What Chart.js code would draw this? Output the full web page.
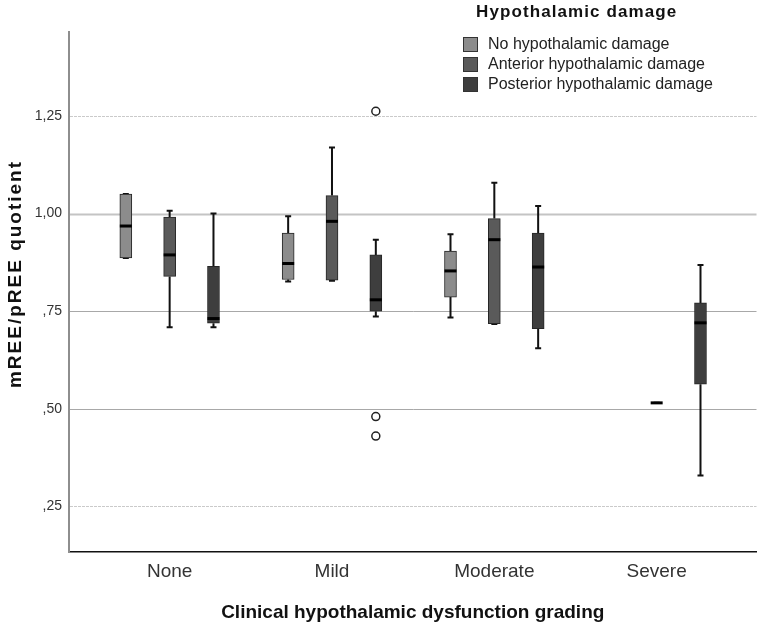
<!DOCTYPE html>
<html><head><meta charset="utf-8">
<script src="https://cdn.jsdelivr.net/npm/chart.js@4.4.0/dist/chart.umd.min.js"></script>
<style>
html,body{margin:0;padding:0;background:#fff;}
#wrap{position:relative;width:762px;height:624px;}
#legend{position:absolute;left:0;top:0;width:762px;height:100px;font-family:"Liberation Sans",Arial,sans-serif;color:#222;pointer-events:none;}
#legend .title{position:absolute;left:476px;top:1px;font-weight:bold;font-size:17px;letter-spacing:1.1px;line-height:22px;color:#111;}
#legend .item{position:absolute;left:463px;height:20px;font-size:16px;line-height:20px;white-space:nowrap;}
#legend .sw{position:absolute;left:0;top:2px;width:13px;height:13px;border:1px solid #333;}
#legend .lbl{position:absolute;left:25px;top:-1px;}
</style></head><body>
<div id="wrap"><canvas id="c" width="762" height="624"></canvas><div id="legend"></div></div>
<script>
// ---- data ----
const categories = ['None', 'Mild', 'Moderate', 'Severe'];
const seriesNames = ['No hypothalamic damage', 'Anterior hypothalamic damage', 'Posterior hypothalamic damage'];
// five-number summaries [min, q1, median, q3, max] per category (null = no cases)
const noDamage  = [[0.886, 0.886, 0.968, 1.050, 1.050], [0.826, 0.831, 0.872, 0.950, 0.993], [0.734, 0.786, 0.853, 0.904, 0.947], null];
const anterior  = [[0.709, 0.839, 0.894, 0.991, 1.007], [0.828, 0.829, 0.980, 1.046, 1.169], [0.717, 0.718, 0.933, 0.987, 1.079], [0.515, 0.515, 0.515, 0.515, 0.515]];
const posterior = [[0.709, 0.719, 0.731, 0.865, 1.000], [0.736, 0.750, 0.779, 0.894, 0.933], [0.655, 0.705, 0.863, 0.950, 1.019], [0.329, 0.563, 0.720, 0.771, 0.868]];
const posteriorOutliers = [[], [1.262, 0.480, 0.430], [], []];
const yTickValues = [0.25, 0.50, 0.75, 1.00, 1.25];
const yTickLabels = [',25', ',50', ',75', '1,00', '1,25'];
const xTitle = 'Clinical hypothalamic dysfunction grading';
const yTitle = 'mREE/pREE quotient';
const legendTitle = 'Hypothalamic damage';

// ---- styling ----
const seriesData = [noDamage, anterior, posterior];
const seriesOutliers = [[[], [], [], []], [[], [], [], []], posteriorOutliers];
const seriesColors = ['#8c8c8c', '#5a5a5a', '#3e3e3e'];
const groupOffsets = [-0.27, 0, 0.27];
const BOX_W = 12, CAP_W = 6;
const FONT = '"Liberation Sans", Arial, sans-serif';

// legend (HTML)
const lg = document.getElementById('legend');
lg.innerHTML = '<div class="title">' + legendTitle + '</div>' + seriesNames.map((n, i) =>
  `<div class="item" style="top:${35 + i * 20}px"><span class="sw" style="background:${seriesColors[i]}"></span><span class="lbl">${n}</span></div>`).join('');

const datasets = [];
seriesData.forEach((arr, s) => {
  datasets.push({
    type: 'bar',
    label: seriesNames[s],
    data: arr.map((b, i) => b ? { x: i + groupOffsets[s], y: [b[1], b[3]] } : null).filter(Boolean),
    backgroundColor: seriesColors[s],
    borderColor: '#262626',
    borderWidth: 1,
    borderSkipped: false,
    barThickness: BOX_W,
    grouped: false,
    order: 2
  });
});
seriesOutliers.forEach((arr, s) => {
  const pts = [];
  arr.forEach((vals, i) => vals.forEach(v => pts.push({ x: i + groupOffsets[s], y: v })));
  if (pts.length) datasets.push({
    type: 'scatter', label: seriesNames[s] + ' outliers', data: pts,
    pointStyle: 'circle', pointRadius: 4, pointBorderWidth: 1.5,
    pointBorderColor: '#222', pointBackgroundColor: '#fff', order: 1
  });
});

function gridStyle(v) {
  if (Math.abs(v - 1) < 1e-6) return { c: '#c4c4c4', w: 2, d: [] };
  if (Math.abs(v - 0.25) < 1e-6 || Math.abs(v - 1.25) < 1e-6) return { c: '#cacaca', w: 1.2, d: [3, 1] };
  return { c: '#a8a8a8', w: 1, d: [] };
}

const boxPlugin = {
  id: 'boxParts',
  beforeDatasetsDraw(chart) {
    const { ctx, chartArea: a, scales: { x, y } } = chart;
    ctx.save();
    // horizontal grid / reference lines
    yTickValues.forEach(v => {
      const st = gridStyle(v);
      const py = Math.round(y.getPixelForValue(v)) + 0.5;
      ctx.strokeStyle = st.c; ctx.lineWidth = st.w; ctx.setLineDash(st.d);
      ctx.beginPath(); ctx.moveTo(a.left + 1, py); ctx.lineTo(a.right, py); ctx.stroke();
    });
    ctx.setLineDash([]);
    // whiskers + caps
    ctx.strokeStyle = '#111'; ctx.lineWidth = 2;
    seriesData.forEach((arr, s) => arr.forEach((b, i) => {
      if (!b) return;
      const px = x.getPixelForValue(i + groupOffsets[s]);
      const pMin = y.getPixelForValue(b[0]), pQ1 = y.getPixelForValue(b[1]);
      const pQ3 = y.getPixelForValue(b[3]), pMax = y.getPixelForValue(b[4]);
      ctx.beginPath();
      ctx.moveTo(px, pQ1); ctx.lineTo(px, pMin);
      ctx.moveTo(px, pQ3); ctx.lineTo(px, pMax);
      ctx.stroke();
      ctx.beginPath();
      ctx.moveTo(px - CAP_W / 2, pMin); ctx.lineTo(px + CAP_W / 2, pMin);
      ctx.moveTo(px - CAP_W / 2, pMax); ctx.lineTo(px + CAP_W / 2, pMax);
      ctx.stroke();
    }));
    ctx.restore();
  },
  afterDatasetsDraw(chart) {
    const { ctx, chartArea: a, scales: { x, y } } = chart;
    ctx.save();
    ctx.strokeStyle = '#000'; ctx.lineWidth = 3;
    seriesData.forEach((arr, s) => arr.forEach((b, i) => {
      if (!b) return;
      const px = x.getPixelForValue(i + groupOffsets[s]);
      const pm = y.getPixelForValue(b[2]);
      ctx.beginPath(); ctx.moveTo(px - BOX_W / 2, pm); ctx.lineTo(px + BOX_W / 2, pm); ctx.stroke();
    }));
    // y axis title (letter-spaced, as in the reference)
    ctx.translate(16, (a.top + a.bottom) / 2 - 18);
    ctx.rotate(-Math.PI / 2);
    ctx.font = 'bold 19px ' + FONT;
    ctx.fillStyle = '#111';
    ctx.textAlign = 'center';
    ctx.textBaseline = 'middle';
    if ('letterSpacing' in ctx) ctx.letterSpacing = '2px';
    ctx.fillText(yTitle, 0, 0);
    ctx.restore();
  }
};

new Chart(document.getElementById('c'), {
  type: 'bar',
  data: { datasets },
  options: {
    responsive: false,
    animation: false,
    layout: { padding: { top: 32, right: 3, left: 0, bottom: 0 } },
    plugins: { legend: { display: false }, tooltip: { enabled: false } },
    scales: {
      x: {
        type: 'linear', min: -0.62, max: 3.615, offset: false,
        afterBuildTicks: sc => { sc.ticks = categories.map((c, i) => ({ value: i })); },
        afterFit: sc => { sc.height = 72; },
        ticks: { callback: v => categories[v], font: { family: FONT, size: 19 }, color: '#333', padding: 8, autoSkip: false, maxRotation: 0 },
        grid: { display: false, drawTicks: false },
        border: { display: true, color: '#111', width: 1.5 },
        title: { display: true, text: xTitle, font: { family: FONT, size: 19, weight: 'bold' }, color: '#111', padding: { top: 8, bottom: 0 } }
      },
      y: {
        type: 'linear', min: 0.133, max: 1.465,
        afterBuildTicks: sc => { sc.ticks = yTickValues.map(v => ({ value: v })); },
        afterFit: sc => { sc.width = 69; },
        ticks: { callback: v => yTickLabels[yTickValues.findIndex(t => Math.abs(t - v) < 1e-6)], font: { family: FONT, size: 14 }, color: '#333', padding: 7 },
        grid: { display: false, drawTicks: false },
        border: { display: true, color: '#8e8e8e', width: 2 },
        title: { display: false }
      }
    }
  },
  plugins: [boxPlugin]
});
</script>
</body></html>
